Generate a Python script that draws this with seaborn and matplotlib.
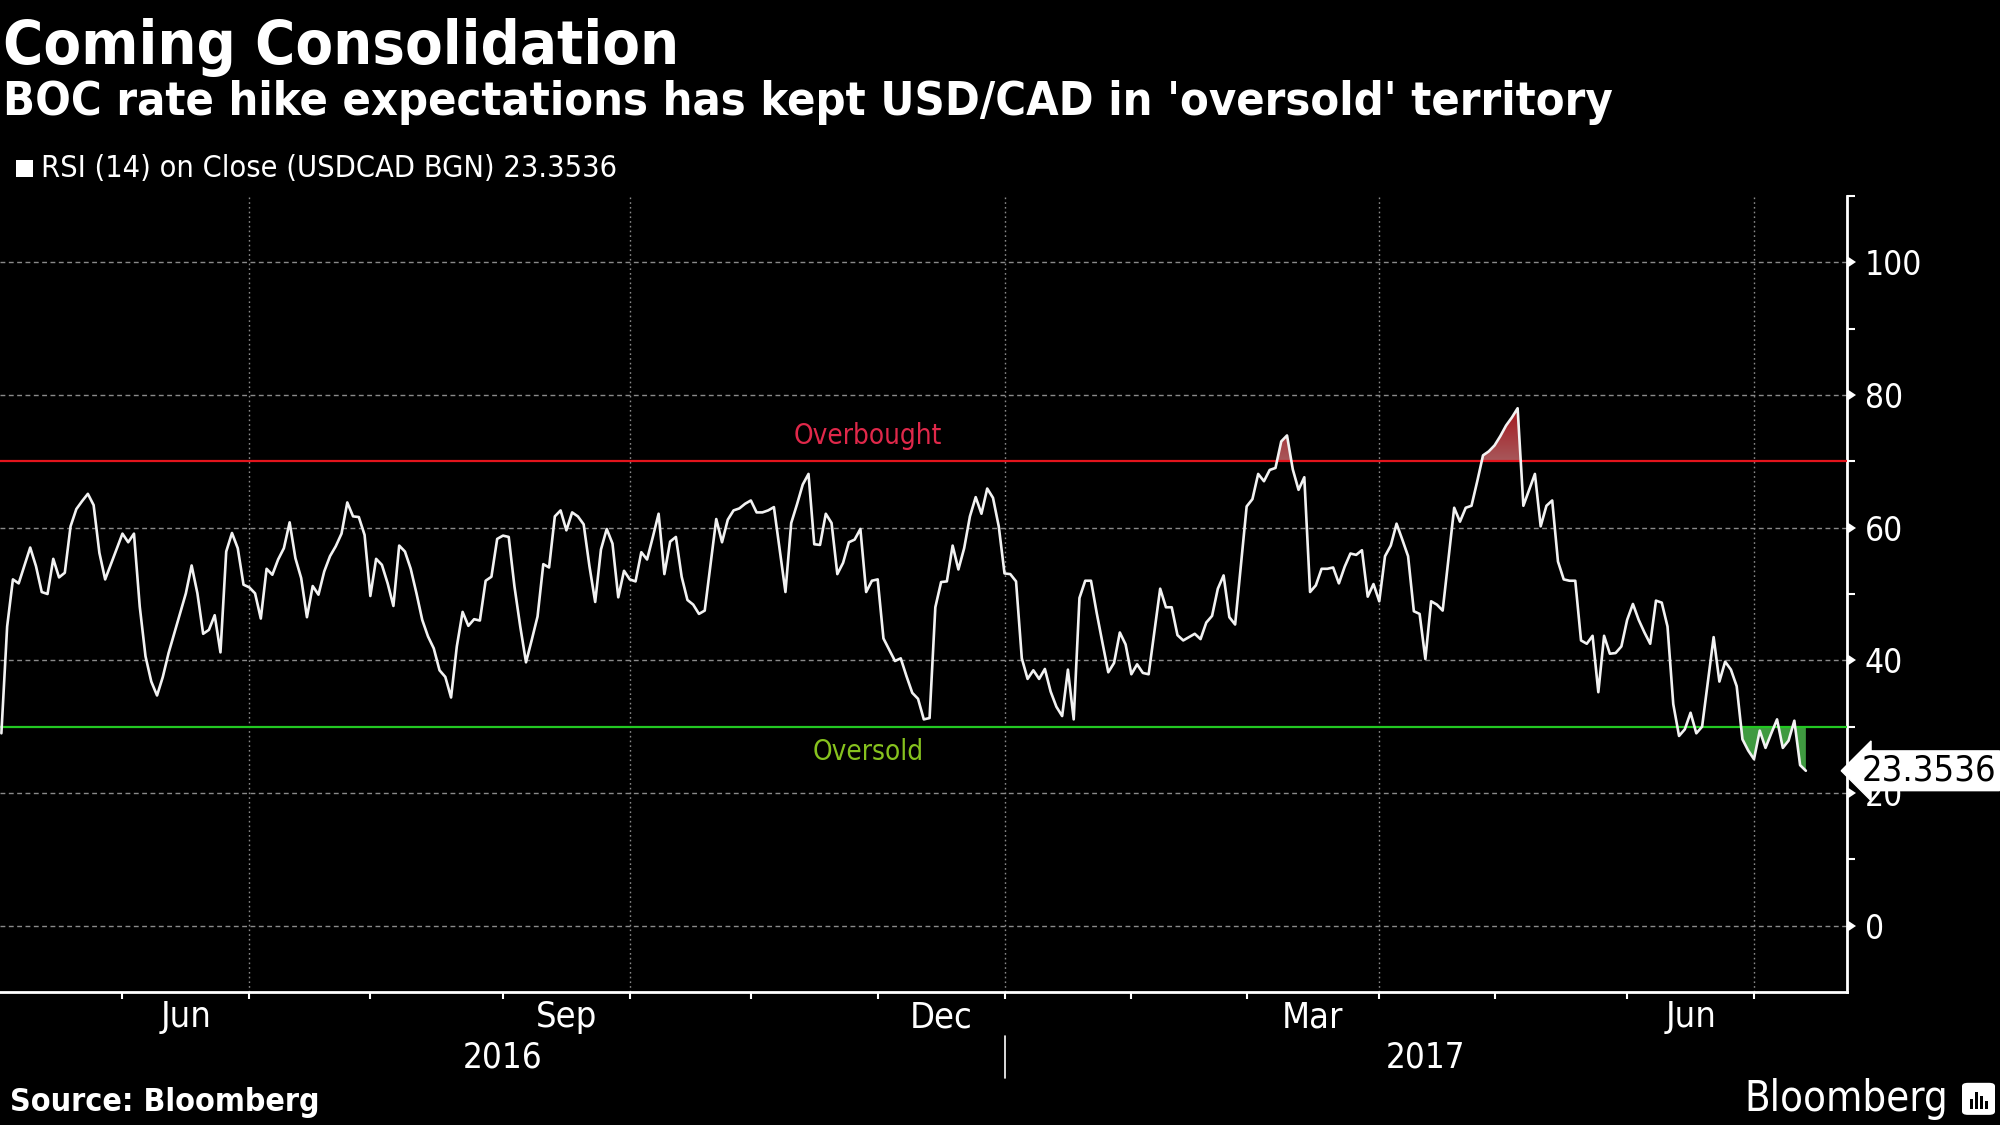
import os
import numpy as np
import pandas as pd
import seaborn as sns
import matplotlib
matplotlib.use("Agg")
import matplotlib.pyplot as plt
from matplotlib import font_manager
from matplotlib.path import Path
from matplotlib.patches import FancyBboxPatch, Rectangle
from matplotlib.colors import LinearSegmentedColormap
from matplotlib.ticker import FixedLocator, FixedFormatter, NullFormatter
import matplotlib.transforms as mtransforms

# --- Data (RSI 14 on USDCAD close, one value per weekday) ---
START_DATE = "2016-05-03"
RSI = [
    29.0, 45.1, 52.2, 51.6, 54.3, 57.0, 54.2, 50.3, 50.0, 55.3,
    52.5, 53.2, 60.2, 62.8, 64.0, 65.1, 63.4, 56.2, 52.2, 54.5,
    56.8, 59.1, 57.8, 59.1, 48.1, 40.6, 36.8, 34.7, 37.5, 41.1,
    44.1, 47.1, 50.1, 54.3, 50.1, 44.0, 44.6, 46.8, 41.2, 56.4,
    59.2, 56.9, 51.4, 51.0, 50.1, 46.3, 53.8, 52.9, 55.2, 56.9,
    60.8, 55.4, 52.4, 46.5, 51.2, 49.9, 53.4, 55.7, 57.2, 59.1,
    63.8, 61.7, 61.6, 58.9, 49.7, 55.3, 54.4, 51.6, 48.2, 57.3,
    56.4, 53.8, 50.1, 46.1, 43.6, 41.8, 38.5, 37.5, 34.4, 42.1,
    47.3, 45.2, 46.2, 46.0, 52.0, 52.6, 58.3, 58.8, 58.6, 51.1,
    45.1, 39.7, 43.1, 46.6, 54.5, 54.0, 61.7, 62.6, 59.6, 62.3,
    61.7, 60.5, 54.2, 48.8, 56.7, 59.8, 57.6, 49.5, 53.5, 52.2,
    51.9, 56.3, 55.2, 58.6, 62.1, 53.0, 57.9, 58.6, 52.6, 49.1,
    48.4, 47.0, 47.5, 54.4, 61.3, 57.8, 61.2, 62.6, 62.9, 63.6,
    64.1, 62.3, 62.3, 62.6, 63.1, 56.7, 50.3, 60.7, 63.5, 66.5,
    68.1, 57.5, 57.4, 62.1, 60.7, 53.0, 54.7, 57.8, 58.2, 59.8,
    50.3, 52.0, 52.2, 43.3, 41.6, 39.9, 40.3, 37.6, 35.1, 34.2,
    31.1, 31.3, 48.0, 51.8, 51.9, 57.3, 53.7, 56.9, 61.7, 64.6,
    62.1, 65.9, 64.5, 60.2, 53.1, 53.0, 51.9, 40.3, 37.2, 38.5,
    37.2, 38.7, 35.3, 33.0, 31.6, 38.6, 31.1, 49.4, 52.0, 52.0,
    47.1, 42.6, 38.2, 39.6, 44.2, 42.4, 37.9, 39.4, 38.1, 37.9,
    44.3, 50.8, 48.0, 48.0, 43.8, 43.0, 43.5, 44.0, 43.2, 45.7,
    46.7, 50.8, 52.8, 46.5, 45.4, 54.3, 63.2, 64.3, 68.1, 67.0,
    68.7, 69.0, 73.0, 73.9, 68.8, 65.7, 67.6, 50.3, 51.3, 53.8,
    53.8, 54.0, 51.6, 54.1, 56.1, 55.9, 56.6, 49.6, 51.5, 48.9,
    55.7, 57.3, 60.6, 58.2, 55.7, 47.4, 47.0, 40.2, 48.9, 48.4,
    47.5, 55.3, 63.0, 60.9, 63.0, 63.3, 67.0, 70.9, 71.5, 72.4,
    73.8, 75.4, 76.6, 78.0, 63.3, 65.7, 68.1, 60.2, 63.3, 64.1,
    54.9, 52.2, 52.0, 52.0, 43.0, 42.5, 43.7, 35.2, 43.7, 41.0,
    41.1, 42.1, 46.1, 48.5, 46.1, 44.2, 42.5, 49.0, 48.7, 45.1,
    33.4, 28.6, 29.6, 32.1, 29.0, 30.0, 36.8, 43.5, 36.8, 39.8,
    38.6, 36.1, 28.1, 26.4, 25.1, 29.4, 26.8, 29.0, 31.1, 26.8,
    27.9, 30.9, 24.2, 23.3536,
]
LAST_VALUE = "23.3536"
OVERBOUGHT = 70
OVERSOLD = 30
SHADE_OVERSOLD_FROM = "2017-06-20"   # only the latest dip is shaded in the original
YTICKS = [0, 20, 40, 60, 80, 100]
YMINOR = [10, 30, 50, 70, 90, 110]
LABEL_MONTHS = [6, 9, 12, 3]         # Jun, Sep, Dec, Mar (every quarter)
GRID_MONTHS = [1, 4, 7, 10]

TITLE = "Coming Consolidation"
SUBTITLE = "BOC rate hike expectations has kept USD/CAD in 'oversold' territory"
LEGEND = "RSI (14) on Close (USDCAD BGN) 23.3536"
SOURCE = "Source: Bloomberg"

# --- Fonts ---
cond = [f for f in font_manager.fontManager.ttflist
        if "DejaVuSansCondensed" in os.path.basename(f.fname)]
if cond:
    FAMILY = cond[0].name
    SCALE = 1.0
else:
    FAMILY = "DejaVu Sans"
    SCALE = 0.9

sns.set_theme(style="dark", rc={"axes.facecolor": "black", "figure.facecolor": "black"})
plt.rcParams['font.family'] = [FAMILY, 'DejaVu Sans']
if cond:
    plt.rcParams['font.stretch'] = 'condensed'

# --- Build frame ---
rsi = np.array(RSI)
dates = pd.bdate_range(START_DATE, periods=len(rsi))
pos = np.arange(len(rsi))
df = pd.DataFrame({"pos": pos, "rsi": rsi, "date": dates})

months = dates.to_period("M")
is_start = np.r_[False, months[1:] != months[:-1]]
month_starts = pos[is_start]
start_months = dates[is_start].month
start_years = dates[is_start].year

XLIM = (-0.24, 320.1)
YLIM = (-10, 110)

fig = plt.figure(figsize=(20, 11.25), dpi=100)
ax = fig.add_axes([0.0, 0.1182, 0.9234, 0.7076])
ax.set_facecolor("black")

# grid
for y in YTICKS:
    ax.axhline(y, color="#8a8a8a", lw=1.0, dashes=(3.5, 2.5), zorder=1)
for p, m in zip(month_starts, start_months):
    if m in GRID_MONTHS:
        ax.axvline(p, color="#8a8a8a", lw=1.0, dashes=(1.2, 2.2), zorder=1)

# threshold lines
ax.axhline(OVERBOUGHT, color="#e3141c", lw=1.6, zorder=3)
ax.axhline(OVERSOLD, color="#22c822", lw=1.6, zorder=3)

# overbought shading (gradient)
red_fill = ax.fill_between(pos, rsi, OVERBOUGHT, where=rsi > OVERBOUGHT, interpolate=True,
                           facecolor="none", edgecolor="none")
clip = Path.make_compound_path(*red_fill.get_paths())
grad = np.linspace(0, 1, 256).reshape(-1, 1)
cmap = LinearSegmentedColormap.from_list("ob", ["#a8585b", "#a3161c"])
im = ax.imshow(grad, extent=(pos[0], pos[-1], OVERBOUGHT, rsi.max()), origin="lower",
               aspect="auto", cmap=cmap, zorder=2, interpolation="bilinear")
im.set_clip_path(clip, transform=ax.transData)

# oversold shading
shade = (rsi < OVERSOLD) & (dates >= pd.Timestamp(SHADE_OVERSOLD_FROM))
ax.fill_between(pos, rsi, OVERSOLD, where=shade, interpolate=True,
                facecolor="#3f9a40", edgecolor="none", zorder=2)

# RSI line
sns.lineplot(data=df, x="pos", y="rsi", ax=ax, color="#f2f2f2", lw=1.9, zorder=4)

ax.set_xlim(*XLIM)
ax.set_ylim(*YLIM)
ax.set_xlabel("")
ax.set_ylabel("")

# spines
for s in ["left", "top"]:
    ax.spines[s].set_visible(False)
for s in ["right", "bottom"]:
    ax.spines[s].set_visible(True)
    ax.spines[s].set_color("white")
    ax.spines[s].set_linewidth(2)

# y axis on the right
ax.yaxis.set_major_locator(FixedLocator(YTICKS))
ax.yaxis.set_minor_locator(FixedLocator(YMINOR))
ax.yaxis.set_minor_formatter(NullFormatter())
ax.tick_params(axis="y", which="both", left=False, labelleft=False, right=True,
               labelright=True, colors="white", direction="out")
ax.tick_params(axis="y", which="major", length=7, width=0, pad=6, labelsize=24 * SCALE)
ax.tick_params(axis="y", which="minor", length=6, width=1.5)
for t in ax.yaxis.get_major_ticks():
    t.tick2line.set_marker(9)  # caret right, base on axis
    t.tick2line.set_markersize(9)
    t.tick2line.set_markerfacecolor("white")
    t.tick2line.set_markeredgecolor("white")

# x axis: month ticks, quarter labels
ax.xaxis.set_major_locator(FixedLocator(month_starts))
ax.xaxis.set_major_formatter(NullFormatter())
bounds = list(month_starts) + [len(rsi) + 20]
label_pos, label_txt = [], []
for i, (p, m) in enumerate(zip(month_starts, start_months)):
    if m in LABEL_MONTHS and i + 1 < len(bounds):
        label_pos.append((p + bounds[i + 1]) / 2)
        label_txt.append(pd.Timestamp(2000, m, 1).strftime("%b"))
ax.xaxis.set_minor_locator(FixedLocator(label_pos))
ax.xaxis.set_minor_formatter(FixedFormatter(label_txt))
ax.tick_params(axis="x", which="major", bottom=True, length=5, width=1.5, colors="white",
               direction="out")
ax.tick_params(axis="x", which="minor", bottom=True, length=0, pad=6, colors="white",
               labelsize=26 * SCALE)

# year labels + separator
trans = mtransforms.blended_transform_factory(ax.transData, ax.transAxes)
jan = month_starts[(start_months == 1)][0]
ax.plot([jan, jan], [-0.055, -0.108], color="white", lw=1.2, transform=trans, clip_on=False)
ax.text((XLIM[0] + jan) / 2, -0.082, str(start_years[0]), transform=trans, ha="center",
        va="center", color="white", fontsize=25 * SCALE)
ax.text((jan + XLIM[1]) / 2, -0.082, str(start_years[-1]), transform=trans, ha="center",
        va="center", color="white", fontsize=25 * SCALE)

# threshold labels
trans_ax = mtransforms.blended_transform_factory(ax.transAxes, ax.transData)
ax.text(0.47, 73.8, "Overbought", transform=trans_ax, ha="center", va="center",
        color="#e0284a", fontsize=20 * SCALE, zorder=5)
ax.text(0.47, 26.2, "Oversold", transform=trans_ax, ha="center", va="center",
        color="#86c21e", fontsize=20 * SCALE, zorder=5)

# last value box
ax.text(1.0082, rsi[-1], LAST_VALUE, transform=trans_ax, ha="left", va="center",
        color="black", fontsize=26 * SCALE, clip_on=False, zorder=10,
        bbox=dict(boxstyle="larrow,pad=0.08", fc="white", ec="white"))

# titles / legend / footer
fig.text(0.0015, 0.9431, TITLE, color="white", fontsize=44 * SCALE, fontweight="bold",
         va="baseline", ha="left")
fig.text(0.0015, 0.8978, SUBTITLE, color="white", fontsize=33.7 * SCALE, fontweight="bold",
         va="baseline", ha="left")
fig.patches.append(Rectangle((0.0078, 0.8425), 0.0088, 0.0155, transform=fig.transFigure,
                             facecolor="white", edgecolor="none"))
fig.text(0.0205, 0.8427, LEGEND, color="white", fontsize=22 * SCALE, va="baseline", ha="left")
fig.text(0.005, 0.0204, SOURCE, color="white", fontsize=23 * SCALE, fontweight="bold",
         va="center", ha="left")
fig.text(0.974, 0.0235, "Bloomberg", color="white", fontsize=30 * SCALE, va="center",
         ha="right")

# small logo icon
fig.patches.append(FancyBboxPatch((0.9825, 0.0105), 0.0135, 0.0255,
                                  boxstyle="round,pad=0.0015,rounding_size=0.003",
                                  transform=fig.transFigure, facecolor="white",
                                  edgecolor="none"))
for bx, bh in [(0.9852, 0.009), (0.9877, 0.015), (0.9902, 0.011), (0.9927, 0.007)]:
    fig.patches.append(Rectangle((bx, 0.0145), 0.0013, bh, transform=fig.transFigure,
                                 facecolor="black", edgecolor="none"))

fig.savefig("out.png", dpi=100, facecolor="black")
